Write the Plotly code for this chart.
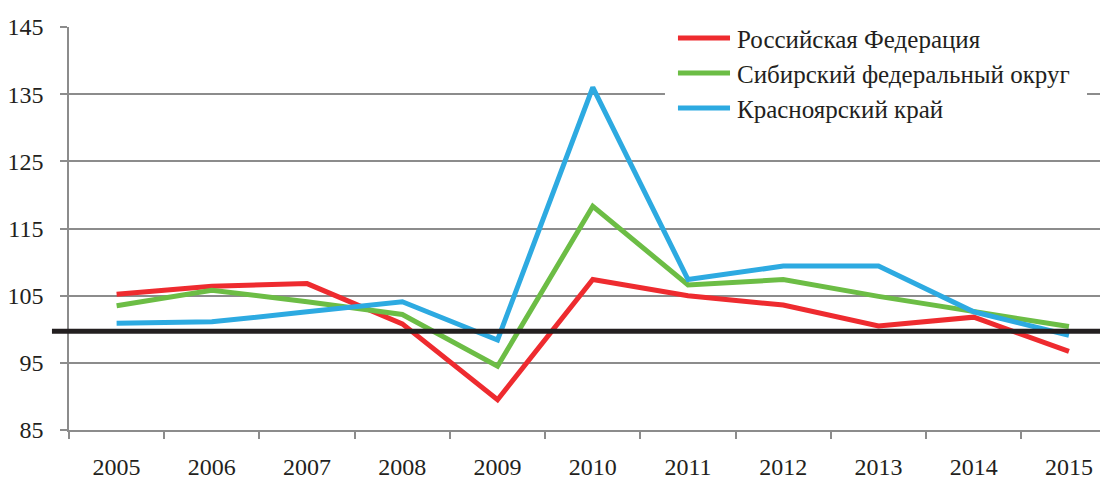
import plotly.graph_objects as go

years = ["2005", "2006", "2007", "2008", "2009", "2010", "2011", "2012", "2013", "2014", "2015"]
russia = [105.2, 106.4, 106.8, 100.8, 89.5, 107.4, 105.0, 103.6, 100.5, 101.8, 96.7]
siberia = [103.5, 105.8, 104.1, 102.2, 94.5, 118.3, 106.6, 107.4, 104.9, 102.6, 100.4]
krasnoyarsk = [100.9, 101.1, 102.6, 104.1, 98.4, 136.0, 107.4, 109.4, 109.4, 102.6, 99.1]
names = ["Российская Федерация", "Сибирский федеральный округ", "Красноярский край"]
colors = ["#EE2B2F", "#6CBD45", "#2DAAE1"]
baseline = 99.7
y_ticks = [85, 95, 105, 115, 125, 135, 145]

FONT = "Liberation Serif"
GRID = "#8C8C8C"
TEXT = "#231F20"

fig = go.Figure()
for i, (name, vals, col) in enumerate(zip(names, [russia, siberia, krasnoyarsk], colors)):
    fig.add_trace(go.Scatter(
        x=years, y=vals, name=name, mode="lines",
        line=dict(color=col, width=5), showlegend=False,
    ))

fig.add_shape(type="line", xref="paper", yref="y", x0=-0.0164, x1=0.995,
              y0=baseline, y1=baseline, line=dict(color=TEXT, width=5), layer="above")

# legend drawn by hand (white box hides gridlines, coloured keys, text)
fig.add_shape(type="rect", xref="paper", yref="paper", x0=0.5736, x1=0.9798,
              y0=0.757, y1=1.02, fillcolor="white", line=dict(width=0), layer="above")
legend_rows = [0.9727, 0.8859, 0.799]
for name, col, ry in zip(names, colors, legend_rows):
    fig.add_shape(type="line", xref="paper", yref="paper", x0=0.5861, x1=0.6362,
                  y0=ry, y1=ry, line=dict(color=col, width=5), layer="above")
    fig.add_annotation(x=0.641, y=ry - 0.003, xref="paper", yref="paper",
                       xanchor="left", yanchor="middle", showarrow=False, text=name,
                       font=dict(family=FONT, size=25, color=TEXT))

# page body has an 8px margin, so the figure is 8px smaller than the window
fig.update_layout(
    template="none",
    width=1100, height=472,
    margin=dict(l=61, r=0, t=19, b=50),
    paper_bgcolor="white", plot_bgcolor="white",
    font=dict(family=FONT, size=24, color=TEXT),
    showlegend=False,
    xaxis=dict(
        type="category", range=[-0.5, 10.41],
        showgrid=False, showline=True, linecolor=GRID, linewidth=1.5,
        ticks="outside", tickson="boundaries", ticklen=7, tickcolor=GRID, tickwidth=1.5,
        tickfont=dict(family=FONT, size=24, color=TEXT),
        ticklabelstandoff=14,
    ),
    yaxis=dict(
        range=[85, 145], tickvals=y_ticks, showgrid=True, gridcolor=GRID, gridwidth=1.5,
        showline=True, linecolor=GRID, linewidth=1.5, zeroline=False,
        ticks="outside", ticklen=7, tickcolor=GRID, tickwidth=1.5,
        tickfont=dict(family=FONT, size=24, color=TEXT),
        ticklabelstandoff=12,
    ),
)

fig.write_html("out.html")
